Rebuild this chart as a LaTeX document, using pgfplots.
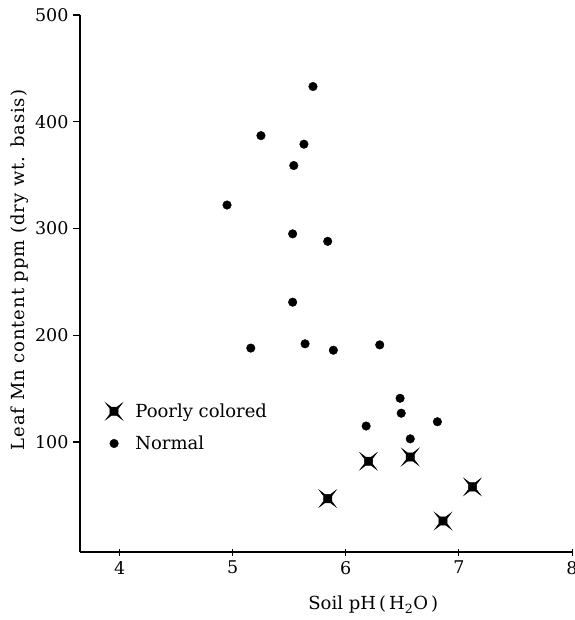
\documentclass[border=0pt]{standalone}
\usepackage{fontspec}
\setmainfont{DejaVu Serif}
\usepackage{pgfplots}
\pgfplotsset{compat=1.18}

% four-spiked marker: square body with thin diagonal spikes
\pgfdeclareplotmark{pstar}{%
  \pgfmathsetlengthmacro{\r}{\pgfplotmarksize}%
  \pgfmathsetlengthmacro{\b}{0.50*\pgfplotmarksize}%
  \pgfmathsetlengthmacro{\c}{0.34*\pgfplotmarksize}%
  \pgfpathmoveto{\pgfqpoint{\r}{\r}}%
  \pgfpathlineto{\pgfqpoint{\c}{\b}}%
  \pgfpathlineto{\pgfqpoint{-\c}{\b}}%
  \pgfpathlineto{\pgfqpoint{-\r}{\r}}%
  \pgfpathlineto{\pgfqpoint{-\b}{\c}}%
  \pgfpathlineto{\pgfqpoint{-\b}{-\c}}%
  \pgfpathlineto{\pgfqpoint{-\r}{-\r}}%
  \pgfpathlineto{\pgfqpoint{-\c}{-\b}}%
  \pgfpathlineto{\pgfqpoint{\c}{-\b}}%
  \pgfpathlineto{\pgfqpoint{\r}{-\r}}%
  \pgfpathlineto{\pgfqpoint{\b}{-\c}}%
  \pgfpathlineto{\pgfqpoint{\b}{\c}}%
  \pgfpathclose
  \pgfusepathqfillstroke
}

\begin{document}
\begin{tikzpicture}
\useasboundingbox (-80bp,-68bp) rectangle (495bp,552bp);
\begin{axis}[
  at={(0,0)}, anchor=south west,
  scale only axis,
  width=492bp, height=537bp,
  xmin=3.65, xmax=8,
  ymin=-3, ymax=500,
  axis lines=left,
  axis line style={-, line width=1.3bp, black},
  xtick={4,5,6,7,8},
  ytick={100,200,300,400,500},
  x tick style={black, line width=1bp},
  y tick style={black, line width=1.3bp},
  xtick align=center,
  ytick align=outside,
  major tick length=7bp,
  /pgf/number format/assume math mode=true,
  tick label style={font=\fontsize{17.5bp}{20bp}\selectfont, black},
  xticklabel style={yshift=-2bp},
  yticklabel style={xshift=-1bp},
  xlabel={Soil pH\,(\,H\textsubscript{2}O\,)},
  ylabel={Leaf Mn content ppm (dry wt. basis)},
  every axis x label/.style={at={(rel axis cs:0.596,0)}, anchor=center, yshift=-53bp,
    font=\fontsize{18bp}{21bp}\selectfont},
  every axis y label/.style={at={(rel axis cs:0,0.525)}, anchor=center, rotate=90, yshift=60bp,
    font=\fontsize{18bp}{21bp}\selectfont\addfontfeature{LetterSpace=5}},
  legend style={draw=none, fill=none, at={(rel axis cs:0.052,0.232)}, anchor=west,
    font=\fontsize{18bp}{21bp}\selectfont, row sep=13bp, column sep=11bp, inner sep=0pt},
  legend cell align=left,
  clip=false,
]
\addplot[only marks, mark=pstar, mark size=8.3bp, black, line width=0.5bp] table {
x y
6.20 82
6.57 86
5.84 47
7.12 58
6.86 26
};
\addlegendentry{Poorly colored}
\addplot[only marks, mark=*, mark size=4.3bp, black] table {
x y
5.71 433
5.25 387
5.63 379
5.54 359
4.95 322
5.53 295
5.84 288
5.53 231
5.16 188
5.64 192
5.89 186
6.30 191
6.48 141
6.49 127
6.18 115
6.81 119
6.57 103
};
\addlegendentry{Normal}
\end{axis}
\end{tikzpicture}
\end{document}
